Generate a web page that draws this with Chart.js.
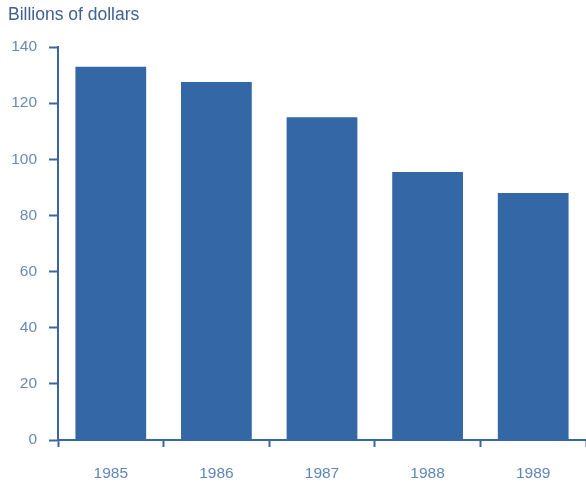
<!DOCTYPE html>
<html>
<head>
<meta charset="utf-8">
<script src="https://cdn.jsdelivr.net/npm/chart.js@4/dist/chart.umd.min.js"></script>
<style>
  html, body { margin: 0; padding: 0; background: #ffffff; }
  #wrap { width: 586px; height: 483px; position: relative; }
</style>
</head>
<body>
<div id="wrap"><canvas id="c" width="586" height="483"></canvas></div>
<script>
// Annual totals, billions of dollars
const years = ['1985', '1986', '1987', '1988', '1989'];
const totals = [133, 127.5, 115, 95.5, 88];
const yTicks = [0, 20, 40, 60, 80, 100, 120, 140];
const unitLabel = 'Billions of dollars';

const barBlue = '#3467a6';
const axisBlue = '#3a67a3';
const labelBlue = '#6a8ab3';
const fontFamily = '"Liberation Sans", Arial, Helvetica, sans-serif';

new Chart(document.getElementById('c'), {
  type: 'bar',
  data: {
    labels: years,
    datasets: [{
      data: totals,
      backgroundColor: barBlue,
      borderWidth: 0,
      barPercentage: 0.67,
      categoryPercentage: 1.0
    }]
  },
  options: {
    responsive: false,
    animation: false,
    layout: { padding: { left: 8, right: 0, top: 0, bottom: 0 } },
    plugins: {
      legend: { display: false },
      tooltip: { enabled: false },
      title: {
        display: true,
        text: unitLabel,
        align: 'start',
        color: '#3f6093',
        font: { family: fontFamily, size: 17.5, weight: 'normal', lineHeight: 1.2 },
        padding: { top: 5, bottom: 21 }
      }
    },
    scales: {
      x: {
        offset: true,
        grid: {
          display: true,
          offset: true,
          drawOnChartArea: false,
          drawTicks: true,
          tickLength: 7,
          tickWidth: 2,
          tickColor: axisBlue
        },
        border: { display: true, color: axisBlue, width: 2 },
        ticks: {
          color: '#5f86b9',
          padding: 17,
          font: { family: fontFamily, size: 15.5 }
        },
        afterFit: (scale) => { scale.height = 43; }
      },
      y: {
        min: 0,
        max: 140,
        afterBuildTicks: (scale) => { scale.ticks = yTicks.map(v => ({ value: v })); },
        grid: {
          display: true,
          drawOnChartArea: false,
          drawTicks: true,
          tickLength: 9,
          tickWidth: 2,
          tickColor: axisBlue
        },
        border: { display: true, color: axisBlue, width: 2 },
        ticks: {
          color: labelBlue,
          padding: 12,
          font: { family: fontFamily, size: 15.5 }
        },
        afterFit: (scale) => { scale.width = 50; }
      }
    }
  }
});
</script>
</body>
</html>
